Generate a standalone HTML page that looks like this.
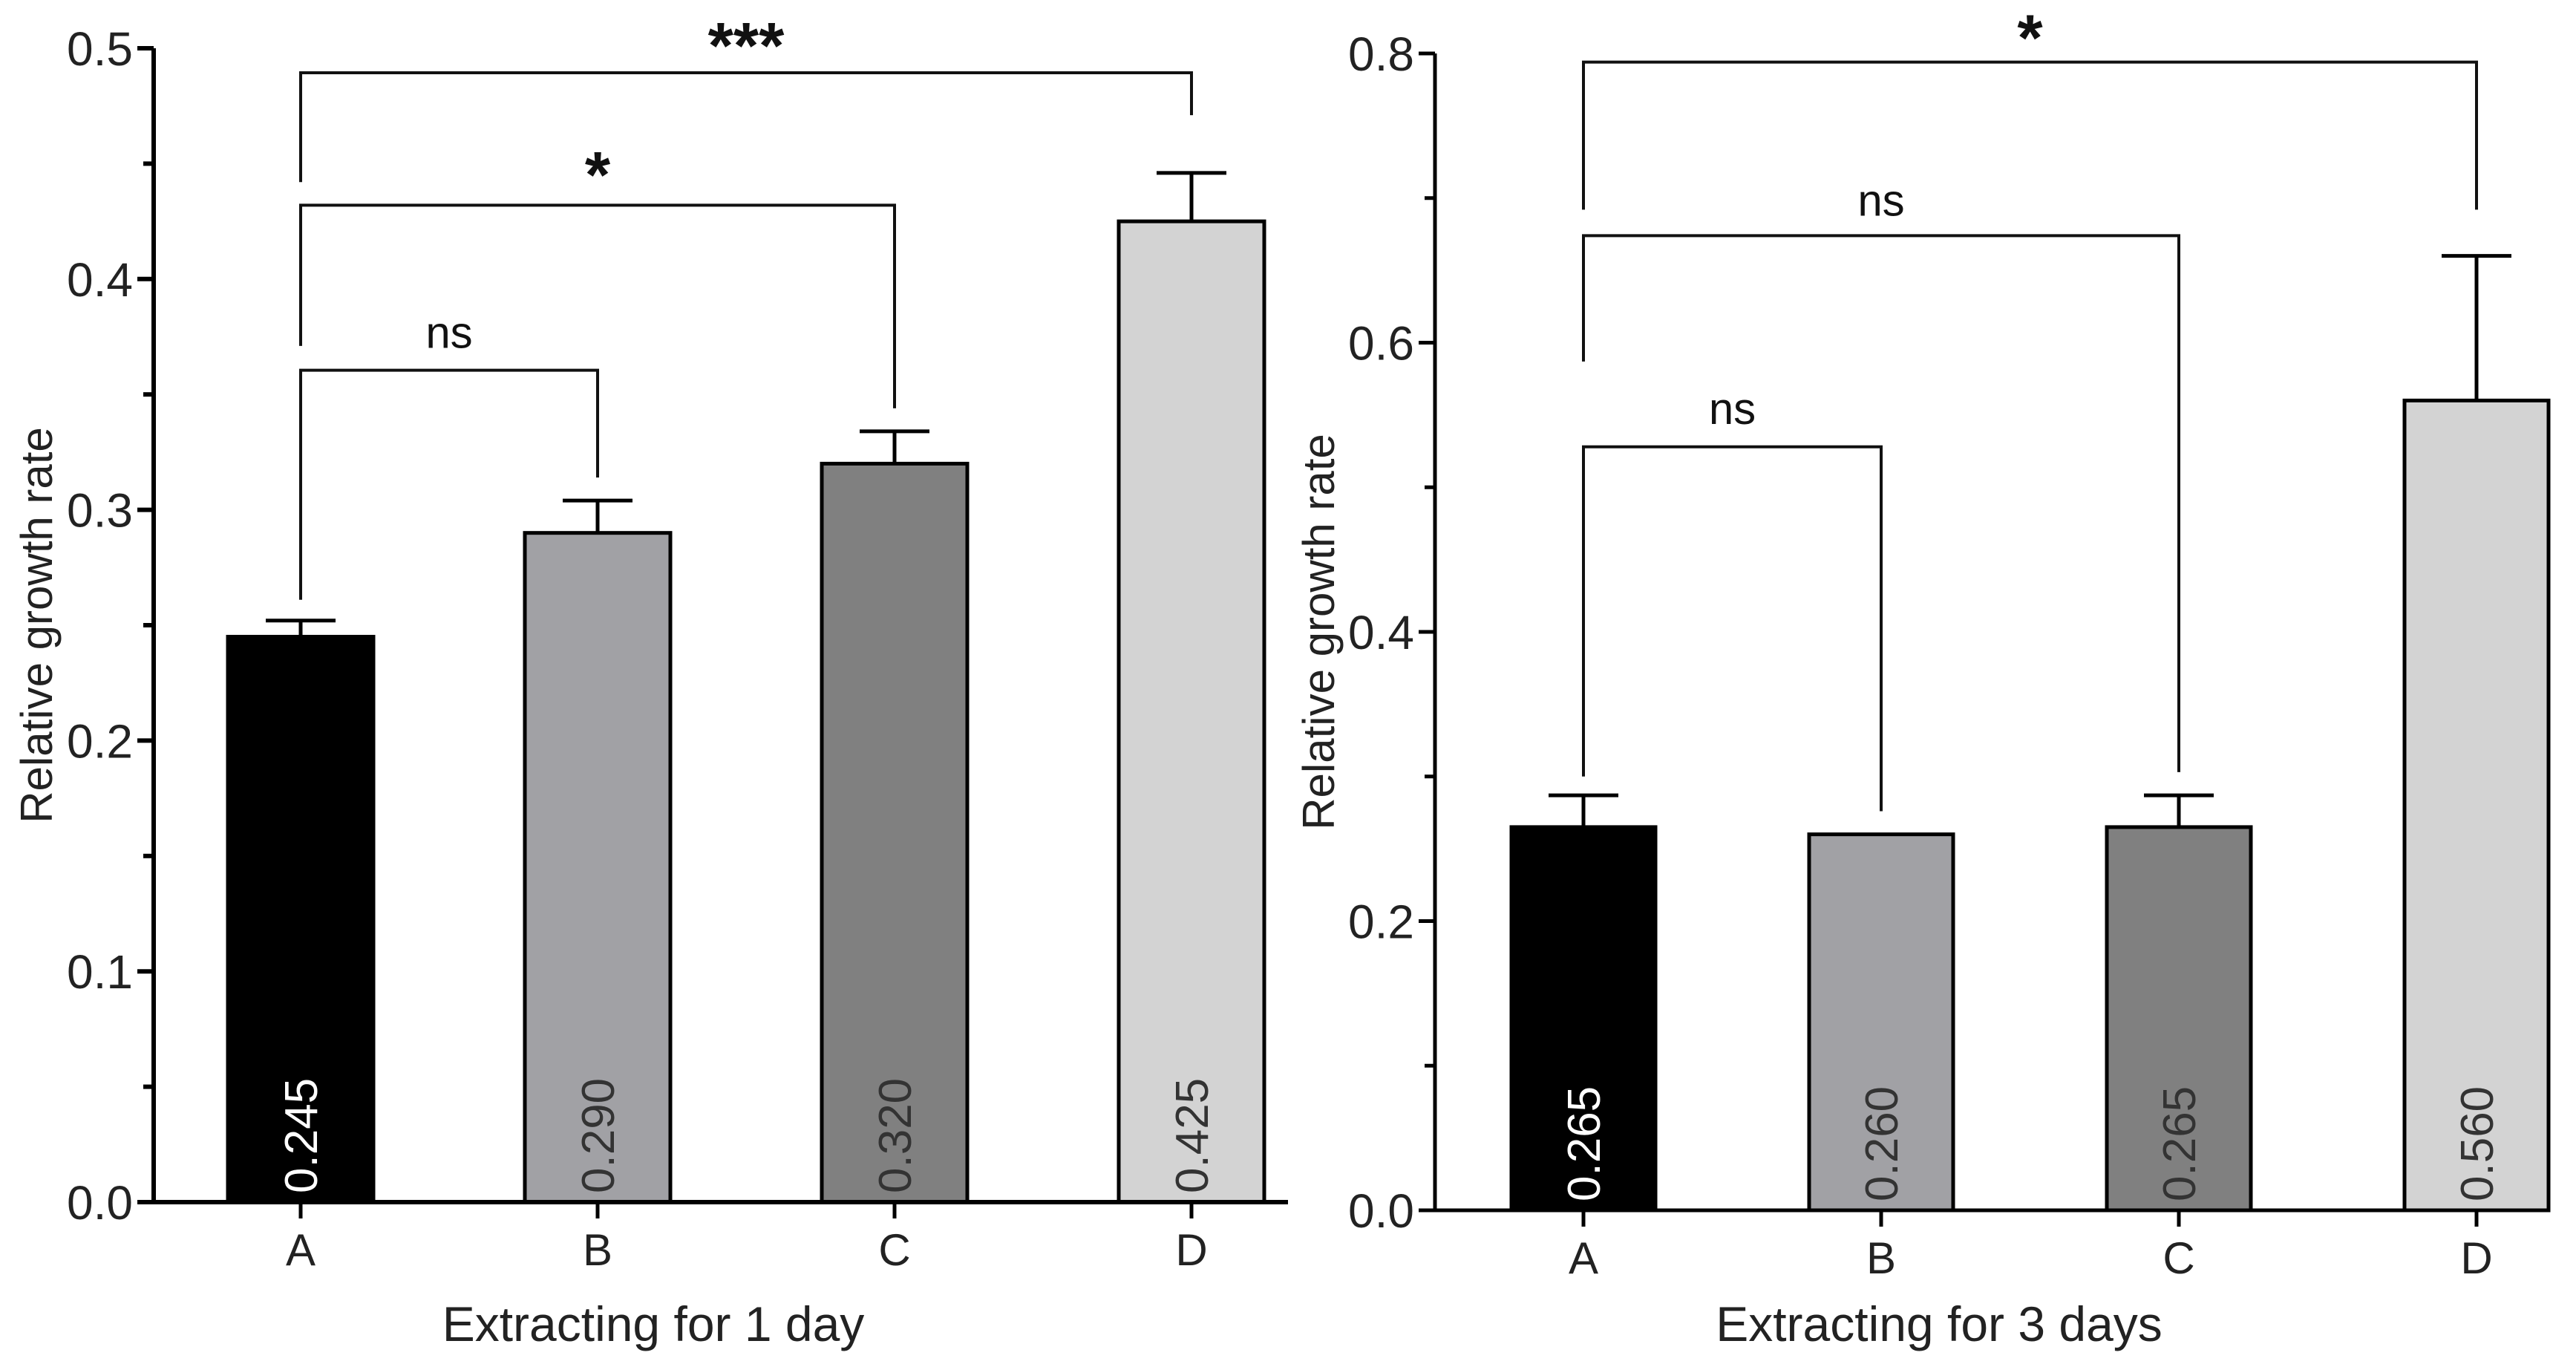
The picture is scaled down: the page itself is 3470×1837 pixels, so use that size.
<!DOCTYPE html>
<html><head><meta charset="utf-8"><style>
html,body{margin:0;padding:0;background:#fff;}
svg{display:block;font-family:"Liberation Sans",Arial,sans-serif;}
</style></head><body>
<svg id="chart" width="3470" height="1837" viewBox="0 0 3470 1837" xmlns="http://www.w3.org/2000/svg"></svg>
<script>
const categories = ["A","B","C","D"];
const day1Values = [0.245, 0.290, 0.320, 0.425];
const day1ErrTop = [0.252, 0.304, 0.334, 0.446];
const day1Labels = ["0.245","0.290","0.320","0.425"];
const day1Ticks = ["0.0","0.1","0.2","0.3","0.4","0.5"];
const day3Values = [0.265, 0.260, 0.265, 0.560];
const day3ErrTop = [0.287, null, 0.287, 0.660];
const day3Labels = ["0.265","0.260","0.265","0.560"];
const day3Ticks = ["0.0","0.2","0.4","0.6","0.8"];
const fills = ["#000000","#a1a1a5","#808080","#d3d3d3"];
const labelColors = ["#ffffff","#333333","#333333","#333333"];
// brackets: [fromIdx, toIdx, lineY, fromLegBottom, toLegBottom, label, labelY]
const day1Brackets = [[0,1,0.3605,0.261,0.314,"ns",0.376],[0,2,0.432,0.371,0.344,"*",0.449],[0,3,0.4894,0.442,0.471,"***",0.505]];
const day3Brackets = [[0,1,0.528,0.300,0.276,"ns",0.553],[0,2,0.674,0.587,0.303,"ns",0.697],[0,3,0.794,0.692,0.692,"*",0.817]];

const NS="http://www.w3.org/2000/svg";
const svg=document.getElementById('chart');
function el(tag,attrs,parent,text){const e=document.createElementNS(NS,tag);for(const k in attrs)e.setAttribute(k,attrs[k]);if(text!==undefined)e.textContent=text;(parent||svg).appendChild(e);return e;}

function drawPanel(cfg){
  const g=el('g',{});
  
  
  const y=v=>cfg.y0-(v/cfg.max)*(cfg.y0-cfg.yTop);
  const x=i=>cfg.firstC+i*cfg.step;
  categories.forEach((c,i)=>{
    const cx=x(i), top=y(cfg.values[i]);
    const r=el('rect',{x:cx-cfg.bw/2,y:top,width:cfg.bw,height:cfg.y0-top,fill:fills[i],stroke:'#000','stroke-width':5},g);
    
    
    if(cfg.err[i]!=null){
      const e=el('path',{d:`M${cx},${top} V${y(cfg.err[i])} M${cx-47},${y(cfg.err[i])} H${cx+47}`,stroke:'#000','stroke-width':5,fill:'none'},g);
      
      
    }
    const t=el('text',{x:cx+22,y:cfg.y0-12,transform:`rotate(-90 ${cx+22} ${cfg.y0-12})`,'font-size':62,fill:labelColors[i]},g,cfg.labels[i]);
    
    
    const tk=el('line',{x1:cx,y1:cfg.y0,x2:cx,y2:cfg.y0+22,stroke:'#000','stroke-width':5},g);
    
    
    const tl=el('text',{x:cx,y:cfg.y0+85,'text-anchor':'middle','font-size':60,fill:'#222'},g,c);
    
    
  });
  const ax=el('path',{d:`M${cfg.x0},${y(cfg.max)} V${cfg.y0} H${cfg.xEnd}`,stroke:'#000','stroke-width':cfg.aw,fill:'none'},g);
  
  
  cfg.ticks.forEach((lab,i)=>{
    const v=parseFloat(lab), yy=y(v);
    const l=el('line',{x1:cfg.x0-22,y1:yy,x2:cfg.x0,y2:yy,stroke:'#000','stroke-width':cfg.aw},g);
    
    
    const t=el('text',{x:cfg.x0-28,y:yy+23,'text-anchor':'end','font-size':64,fill:'#222'},g,lab);
    
    
    if(i<cfg.ticks.length-1){
      const my=y(v+cfg.minor);
      const m=el('line',{x1:cfg.x0-14,y1:my,x2:cfg.x0,y2:my,stroke:'#000','stroke-width':cfg.aw},g);
      
      
    }
  });
  cfg.brackets.forEach(b=>{
    const xa=x(b[0]), xb=x(b[1]);
    const p=el('path',{d:`M${xa},${y(b[3])} V${y(b[2])} H${xb} V${y(b[4])}`,stroke:'#111','stroke-width':4,fill:'none'},g);
    
    
    const isStar=b[5].indexOf('*')>=0;
    const t=el('text',{x:(xa+xb)/2,y:y(b[6])+(isStar?42:18),'text-anchor':'middle','font-size':isStar?88:60,'font-weight':isStar?'bold':'normal',fill:'#111'},g,b[5]);
    
    
  });
  const yc=(cfg.y0+y(cfg.max))/2;
  const yt=el('text',{x:cfg.ytX,y:yc,transform:`rotate(-90 ${cfg.ytX} ${yc})`,'text-anchor':'middle','font-size':60,fill:'#222'},g,'Relative growth rate');
  
  
  const xt=el('text',{x:cfg.xtX,y:1806,'text-anchor':'middle','font-size':66,fill:'#222'},g,cfg.xTitle);
  
  
}
drawPanel({name:'panel-1-day',x0:207,xEnd:1735,y0:1619,yTop:65,max:0.5,firstC:405,step:400,bw:196,aw:6,minor:0.05,
  values:day1Values,err:day1ErrTop,labels:day1Labels,ticks:day1Ticks,brackets:day1Brackets,ytX:70,xtX:880,xTitle:'Extracting for 1 day'});
drawPanel({name:'panel-3-days',x0:1933,xEnd:3372,y0:1630,yTop:72,max:0.8,firstC:2133,step:401,bw:194,aw:5,minor:0.1,
  values:day3Values,err:day3ErrTop,labels:day3Labels,ticks:day3Ticks,brackets:day3Brackets,ytX:1797,xtX:2612,xTitle:'Extracting for 3 days'});
</script>
</body></html>
